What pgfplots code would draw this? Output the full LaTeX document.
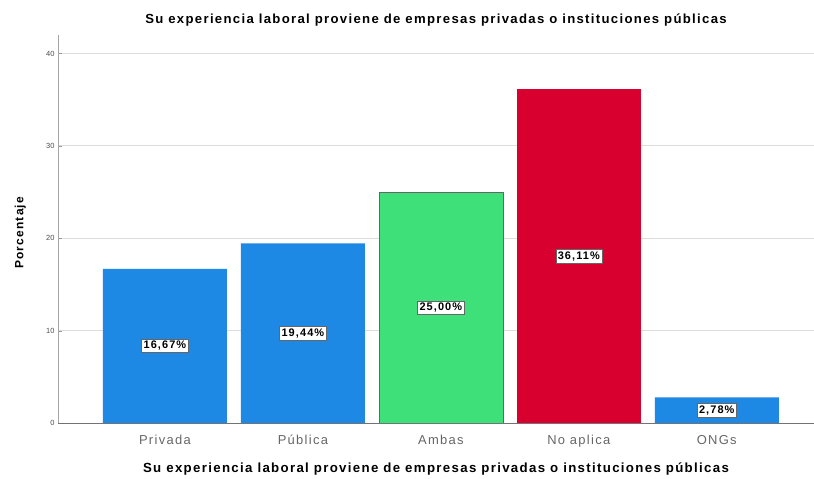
\documentclass[border=0pt]{standalone}
\usepackage{fontspec}
\setmainfont{Liberation Sans}
\usepackage{pgfplots}
\pgfplotsset{compat=1.18}
\definecolor{sblue}{RGB}{30,136,229}
\definecolor{sgreen}{RGB}{62,224,122}
\definecolor{sred}{RGB}{216,0,46}
\definecolor{gridc}{RGB}{221,221,221}
\newfontfamily\spaced[LetterSpace=10]{Liberation Sans}
\begin{document}
\begin{tikzpicture}[x=1bp,y=1bp]
\useasboundingbox (0,0) rectangle (814,479);
\begin{axis}[
  at={(58bp,56bp)}, anchor=south west,
  scale only axis, width=756bp, height=388bp,
  xmin=-0.775, xmax=4.705, ymin=0, ymax=42,
  axis x line*=bottom, axis y line*=left,
  axis line style={draw=black!35, line width=0.8pt},
  x axis line style={draw=black!55},
  xtick={0,1,2,3,4},
  xticklabels={Privada,Pública,Ambas,No aplica,ONGs},
  xtick style={draw=none},
  xticklabel style={font=\spaced\fontsize{13}{15}\selectfont, text=black!60, text height=10bp, text depth=3bp, yshift=-4bp},
  ytick={0,10,20,30,40},
  ytick style={draw=black!40},
  major tick length=4bp,
  yticklabel style={font=\fontsize{7.5}{8}\selectfont, text=black!70},
  /pgf/number format/assume math mode=true,
  ymajorgrids, grid style={draw=gridc, line width=0.9pt},
  ylabel={\bfseries Porcentaje},
  ylabel style={font=\spaced\fontsize{12}{14}\selectfont, at={(axis description cs:-0.05,0.49)}, anchor=center},
  xlabel={\bfseries Su experiencia laboral proviene de empresas privadas o instituciones públicas},
  xlabel style={font=\spaced\fontsize{13.3}{15}\selectfont, yshift=-8bp},
  title={\bfseries Su experiencia laboral proviene de empresas privadas o instituciones públicas},
  title style={font=\spaced\fontsize{13.2}{14}\selectfont, yshift=-1bp},
  ybar, bar width=124bp, bar shift=0pt,
  visualization depends on={y \as \rawy},
  nodes near coords={\pgfmathprintnumber[fixed,fixed zerofill,precision=2,use comma]{\pgfplotspointmeta}\%},
  every node near coord/.append style={anchor=center, yshift={-\rawy*4.619bp}, fill=white, draw=black!60, line width=0.4pt, inner sep=2bp, font=\spaced\bfseries\fontsize{11}{12}\selectfont, text=black},
]
\addplot[fill=sblue, draw=none] coordinates {(0,16.67) (1,19.44) (4,2.78)};
\addplot[fill=sgreen, draw=black!60, line width=0.5pt] coordinates {(2,25.00)};
\addplot[fill=sred, draw=none] coordinates {(3,36.11)};
\end{axis}
\end{tikzpicture}
\end{document}
